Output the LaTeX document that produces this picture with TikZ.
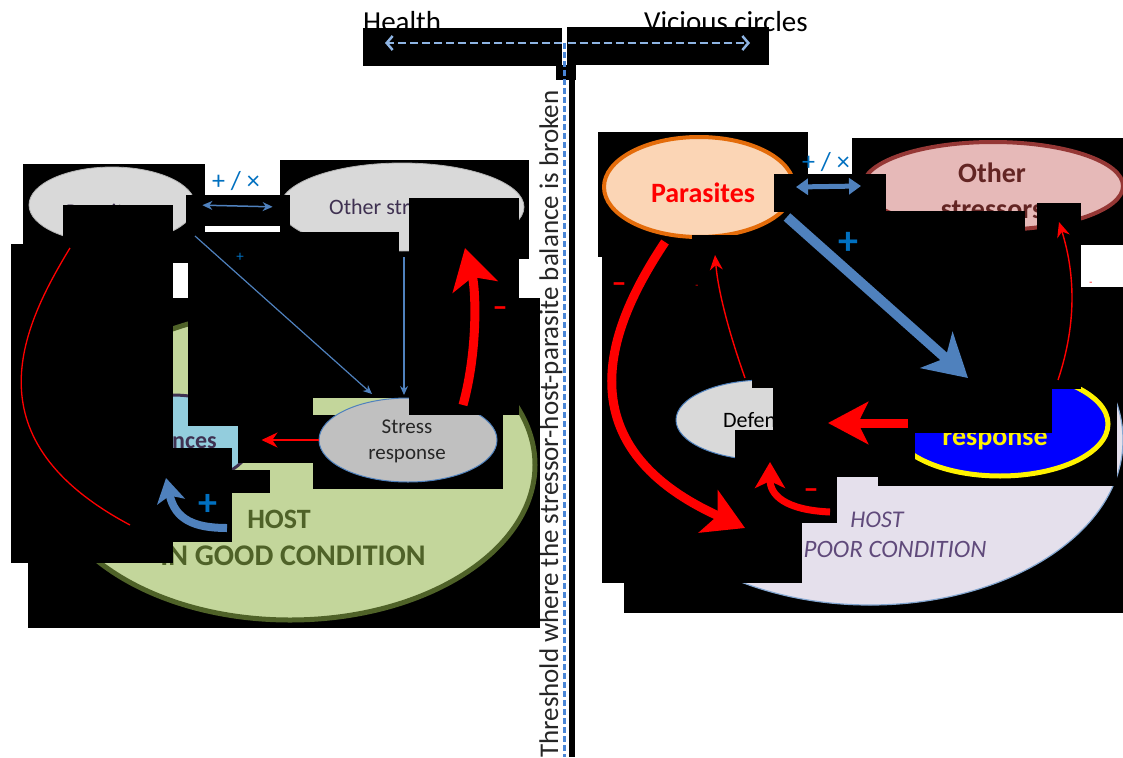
\documentclass[tikz,border=0pt]{standalone}
\usepackage{fontspec}
\setmainfont{Carlito}
\usetikzlibrary{arrows.meta,shapes.geometric}
\definecolor{cBlue}{HTML}{4F81BD}
\definecolor{cBright}{HTML}{0070C0}
\definecolor{cGreen}{HTML}{C3D69B}
\definecolor{cOlive}{HTML}{4F6228}
\definecolor{cLBlue}{HTML}{93CDDD}
\definecolor{cDPurple}{HTML}{3F3151}
\definecolor{cGray}{HTML}{D9D9D9}
\definecolor{cSGray}{HTML}{C0C0C0}
\definecolor{cPeach}{HTML}{FBD5B5}
\definecolor{cOrange}{HTML}{E46C0A}
\definecolor{cPink}{HTML}{E6B9B8}
\definecolor{cDRed}{HTML}{953735}
\definecolor{cBrown}{HTML}{632523}
\definecolor{cLav}{HTML}{E5E0EC}
\definecolor{cPurp}{HTML}{604A7B}
\definecolor{cDash}{HTML}{8EB4E3}
\definecolor{cVDash}{HTML}{4A86D6}
\newcommand\myfs[1]{\fontsize{#1}{#1}\selectfont}
\begin{document}
\begin{tikzpicture}[x=1pt,y=-1pt,
  ell/.style={ellipse, inner sep=0pt},
  lbl/.style={inner sep=0pt, anchor=base},
  thinblue/.style={draw=cBlue, line width=1.2pt, -{Stealth[length=9pt,width=8pt]}},
  thinred/.style={draw=red, line width=1.4pt, -{Stealth[length=15pt,width=13pt]}},
  redthick/.style={draw=red, line width=9pt, -{Stealth[length=40pt,width=46pt,inset=10pt]}},
  dasharrow/.style={draw=cDash, line width=2.5pt, dash pattern=on 8pt off 4pt, -{Straight Barb[length=6pt,width=14pt]}},
  minus/.style={text=red, font=\bfseries\myfs{30}, inner sep=0pt}
]
\useasboundingbox (0,0) rectangle (1123,757);
\fill[white] (0,0) rectangle (1123,757);

% ---------------- top: axis ----------------
\node[lbl, anchor=base west, font=\myfs{29}] (health) at (363,32) {Health};
\node[lbl, anchor=base east, font=\myfs{29}] (vicious) at (808,32) {Vicious circles};
\fill[black] (363,28) rectangle (562,66);
\fill[black] (567,27) rectangle (769,65);
\fill[black] (556,65) rectangle (576,80);
\fill[black] (569,65) rectangle (575,757);
\coordinate (axis) at (564.5,43);
\coordinate (hEnd) at (385,43);
\coordinate (vEnd) at (750,43);
\coordinate (axisBottom) at (564.5,757);
\draw[dasharrow] ([xshift=-3pt]axis) -- (hEnd);
\draw[dasharrow] ([xshift=3pt]axis) -- (vEnd);
\draw[cVDash, line width=3pt, dash pattern=on 6pt off 3pt] (axis) -- (axisBottom);
\node[rotate=90, anchor=base west, inner sep=0pt, font=\myfs{27}, text=black!85] (thr) at (558,758) {Threshold where the stressor-host-parasite balance is broken};

% ---------------- left panel ----------------
\fill[black] (23,164) rectangle (205,244);
\fill[black] (280,160) rectangle (529,259);
\fill[black] (188,232) rectangle (519,298);
\fill[black] (173,244) rectangle (188,263);
\fill[black] (28,298) rectangle (540,628);

\node[ell, minimum width=166pt, minimum height=76pt, fill=cGray, draw=gray!60, line width=0.8pt] (parL) at (112,205) {};
\node[lbl, font=\myfs{21}, text=cDPurple] (parLt) at (104,218) {Parasites};
\node[ell, minimum width=244pt, minimum height=88pt, fill=cGray, draw=gray!60, line width=0.8pt] (othL) at (402,207) {};
\node[lbl, anchor=base west, font=\myfs{22}, text=cDPurple] (othLt) at (329,214) {Other stressors};
\node[ell, minimum width=490pt, minimum height=310pt, fill=cGreen, draw=cOlive, line width=5pt] (hostL) at (290,465) {};
\node[lbl, font=\bfseries\myfs{28}, text=cOlive] (hostLt1) at (279,528) {HOST};
\node[lbl, font=\bfseries\myfs{30}, text=cOlive] (hostLt2) at (293,565) {IN GOOD CONDITION};
\node[ell, minimum width=160pt, minimum height=90pt, fill=cLBlue, draw=cDPurple, line width=3pt] (defL) at (172,440) {};
\node[lbl, anchor=base east, font=\bfseries\myfs{24}, text=cDPurple] (defLt) at (217,448) {Defences};

\fill[black] (63,205) rectangle (173,563);
\fill[black] (11,244) rectangle (173,563);
\fill[black] (186,195) rectangle (290,226);
\fill[black] (280,232) rectangle (399,259);
\fill[black] (188,259) rectangle (409,398);
\fill[black] (188,398) rectangle (238,426);
\fill[black] (238,398) rectangle (313,463);
\fill[black] (232,470) rectangle (270,493);
\fill[black] (163,448) rectangle (232,542);
\fill[black] (313,415) rectangle (503,489);

\node[ell, minimum width=178pt, minimum height=84pt, fill=cSGray, draw=cBlue, line width=1pt] (stressL) at (408,440) {};
\node[lbl, font=\myfs{21}, text=black!85] (stressLt1) at (407,433) {Stress};
\node[lbl, font=\myfs{21}, text=black!85] (stressLt2) at (407,459) {response};
\fill[black] (409,198) rectangle (519,415);

% left connectors
\draw[cBlue, line width=1.5pt, {Stealth[length=10pt,width=9pt]}-{Stealth[length=10pt,width=9pt]}, shorten <=7pt, shorten >=7pt] (parL.east) -- (othL.west);
\node[text=cBright, font=\myfs{26}, inner sep=0pt] (pxL) at (236,181) {+ / ×};
\coordinate (a1s) at (195,236);
\coordinate (a1e) at (372,394);
\draw[thinblue] (a1s) -- (a1e);
\node[text=cBright, font=\myfs{15}, inner sep=0pt] (plusA) at (240,257) {+};
\coordinate (a2s) at (404,257);
\coordinate (a2e) at (404,395);
\draw[thinblue] (a2s) -- (a2e);
\coordinate (rc1s) at (70,248);
\coordinate (rc1e) at (130,525);
\draw[red, line width=1.3pt] (rc1s) .. controls (20,330) and (-30,440) .. (rc1e);
\coordinate (rt1s) at (463,405);
\coordinate (rt1e) at (465,248);
\draw[redthick] (rt1s) .. controls (478,350) and (476,290) .. (rt1e);
\node[minus] (mL) at (500,312) {–};
\draw[red, line width=1.5pt, -{Stealth[length=16pt,width=15pt]}, shorten >=8pt] (stressL.west) -- (defL.east);
\coordinate (bc1s) at (227,528);
\coordinate (bc1e) at (166,478);
\draw[cBlue, line width=8pt, -{Stealth[length=24pt,width=28pt,inset=6pt]}] (bc1s) .. controls (195,528) and (175,520) .. (bc1e);
\node[text=cBright, font=\bfseries\myfs{38}, inner sep=0pt] (plusL) at (208,505) {+};

% ---------------- right panel ----------------
\fill[black] (598,132) rectangle (808,257);
\fill[black] (852,138) rectangle (1123,245);
\fill[black] (602,212) rectangle (1081,583);
\fill[black] (1081,287) rectangle (1123,613);
\fill[black] (624,583) rectangle (1081,613);

\node[ell, minimum width=190pt, minimum height=100pt, fill=cPeach, draw=cOrange, line width=4pt] (parR) at (699,187) {};
\node[lbl, font=\bfseries\myfs{28}, text=red] (parRt) at (703,202) {Parasites};
\node[ell, minimum width=260pt, minimum height=88pt, fill=cPink, draw=cDRed, line width=4pt] (othR) at (993,186) {};
\node[lbl, font=\bfseries\myfs{28}, text=cBrown] (othRt1) at (992,182) {Other};
\node[lbl, font=\bfseries\myfs{28}, text=cBrown] (othRt2) at (992,218) {stressors};
\node[ell, minimum width=506pt, minimum height=330pt, fill=cLav, draw=cBlue!70, line width=1.2pt] (hostR) at (870,440) {};
\node[lbl, font=\itshape\myfs{24}, text=cPurp] (hostRt1) at (877,527) {HOST};
\node[lbl, font=\itshape\myfs{25}, text=cPurp] (hostRt2) at (881,557) {IN POOR CONDITION};

\fill[black] (774,174) rectangle (886,212);
\fill[black] (692,235) rectangle (752,257);
\fill[black] (852,211) rectangle (1025,245);
\fill[black] (1025,232) rectangle (1037,245);
\fill[black] (1037,203) rectangle (1081,245);
\fill[black] (602,245) rectangle (802,583);
\fill[black] (802,245) rectangle (837,523);
\fill[black] (837,245) rectangle (878,477);
\fill[black] (878,245) rectangle (1081,486);
\fill[black] (1081,287) rectangle (1117,486);

\node[ell, minimum width=178pt, minimum height=80pt, fill=cGray, draw=cBlue, line width=1pt] (defR) at (765,420) {};
\node[lbl, anchor=base west, font=\myfs{22}, text=black] (defRt) at (723,427) {Defences};
\node[ell, minimum width=216pt, minimum height=104pt, fill=blue, draw=yellow, line width=5pt] (stressR) at (1000,424) {};
\node[lbl, font=\bfseries\myfs{28}, text=yellow] (stressRt1) at (995,413) {Stress};
\node[lbl, font=\bfseries\myfs{28}, text=yellow] (stressRt2) at (995,445) {response};

\fill[black] (752,360) rectangle (773,388);
\fill[black] (773,300) rectangle (1052,433);
\fill[black] (1052,300) rectangle (1081,389);
\fill[black] (735,430) rectangle (802,583);
\fill[black] (802,433) rectangle (837,523);
\fill[black] (837,433) rectangle (878,477);
\fill[black] (878,433) rectangle (915,486);

% right connectors
\draw[cBlue, line width=5pt, {Triangle[length=12pt,width=16pt]}-{Triangle[length=12pt,width=16pt]}] (parR.east) -- (othR.west);
\node[text=cBright, font=\myfs{26}, inner sep=0pt] (pxR) at (826,162) {+ / ×};
\coordinate (bbs) at (787,217);
\coordinate (bbe) at (968,378);
\draw[cBlue, line width=10pt, -{Stealth[length=42pt,width=48pt,inset=12pt]}] (bbs) -- (bbe);
\node[text=cBright, font=\bfseries\myfs{40}, inner sep=0pt] (plusR) at (848,243) {+};
\coordinate (rt2s) at (665,242);
\coordinate (rt2e) at (745,528);
\draw[redthick] (rt2s) .. controls (620,310) and (550,440) .. (rt2e);
\node[minus] (mR1) at (619,288) {–};
\node[text=red, font=\myfs{10}, inner sep=0pt] (mR2) at (697,287) {-};
\coordinate (tr1s) at (745,378);
\coordinate (tr1e) at (715,255);
\draw[thinred] (tr1s) .. controls (728,330) and (718,290) .. (tr1e);
\coordinate (tr2s) at (1058,380);
\coordinate (tr2e) at (1059,222);
\draw[thinred] (tr2s) .. controls (1078,320) and (1074,270) .. (tr2e);
\node[text=red, font=\myfs{10}, inner sep=0pt] (mR3) at (1091,284) {-};
\coordinate (rs1) at (908,423);
\coordinate (rs2) at (828,423);
\draw[red, line width=9pt, -{Stealth[length=40pt,width=42pt,inset=10pt]}] (rs1) -- (rs2);
\coordinate (sc1) at (830,512);
\coordinate (sc2) at (770,462);
\draw[red, line width=7pt, -{Stealth[length=26pt,width=30pt,inset=7pt]}] (sc1) .. controls (785,510) and (770,495) .. (sc2);
\node[minus] (mR4) at (811,494) {–};
\end{tikzpicture}
\end{document}
